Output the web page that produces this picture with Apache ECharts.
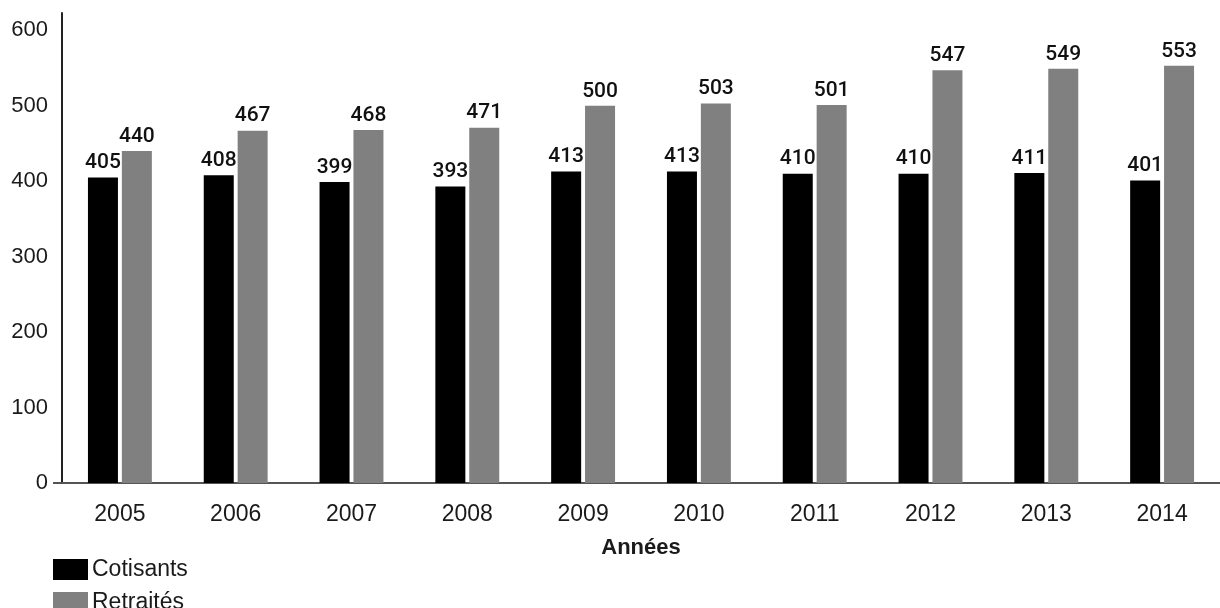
<!DOCTYPE html>
<html>
<head>
<meta charset="utf-8">
<script src="https://cdn.jsdelivr.net/npm/echarts@6/dist/echarts.min.js"></script>
<style>
html,body{margin:0;padding:0;background:#fff;}
#chart{width:1220px;height:608px;}
</style>
</head>
<body>
<div id="chart"></div>
<script>
const years = ['2005','2006','2007','2008','2009','2010','2011','2012','2013','2014'];
const cotisants = [405, 408, 399, 393, 413, 413, 410, 410, 411, 401];
const retraites = [440, 467, 468, 471, 500, 503, 501, 547, 549, 553];
const seriesNames = ['Cotisants', 'Retraités'];
const axisName = 'Années';

const FONT = '"Liberation Sans", Arial, sans-serif';
const chart = echarts.init(document.getElementById('chart'), null, {renderer: 'canvas'});
chart.setOption({
  backgroundColor: '#fff',
  animation: false,
  grid: {left: 62, top: 13, width: 1171, bottom: 125, containLabel: false},
  legend: {
    orient: 'vertical', left: 53, top: 558, padding: 0, height: 120,
    itemWidth: 35, itemHeight: 21, itemGap: 10,
    icon: 'rect',
    textStyle: {fontFamily: FONT, fontSize: 23, color: '#1a1a1a', padding: [0, 0, 0, -1]},
    data: seriesNames
  },
  xAxis: {
    type: 'category', data: years,
    name: axisName, nameLocation: 'middle', nameGap: 54,
    nameTextStyle: {fontFamily: FONT, fontSize: 22, fontWeight: 'bold', color: '#1a1a1a'},
    axisLine: {lineStyle: {color: '#555', width: 2}},
    axisTick: {show: false},
    axisLabel: {fontFamily: FONT, fontSize: 23, color: '#1a1a1a', margin: 20}
  },
  yAxis: {
    type: 'value', min: 0, max: 623, interval: 100,
    axisLine: {show: true, lineStyle: {color: '#222', width: 2}},
    axisTick: {show: false},
    splitLine: {show: false},
    axisLabel: {fontFamily: FONT, fontSize: 22, color: '#1a1a1a', margin: 14,
      formatter: v => (v <= 600 ? String(v) : '')}
  },
  series: [
    {name: seriesNames[0], type: 'bar', data: cotisants, barWidth: 30, barGap: '13%',
     itemStyle: {color: '#000'},
     label: {show: true, position: 'top', distance: 4, fontFamily: 'Roboto, ' + FONT, fontWeight: 500, fontSize: 21, color: '#111'}},
    {name: seriesNames[1], type: 'bar', data: retraites, barWidth: 30, barGap: '13%',
     itemStyle: {color: '#808080'},
     label: {show: true, position: 'top', distance: 4, fontFamily: 'Roboto, ' + FONT, fontWeight: 500, fontSize: 21, color: '#111'}}
  ],
  graphic: [
    {type: 'line', shape: {x1: 53, y1: 483, x2: 63, y2: 483}, style: {stroke: '#555', lineWidth: 2}, silent: true}
  ]
});
</script>
</body>
</html>
